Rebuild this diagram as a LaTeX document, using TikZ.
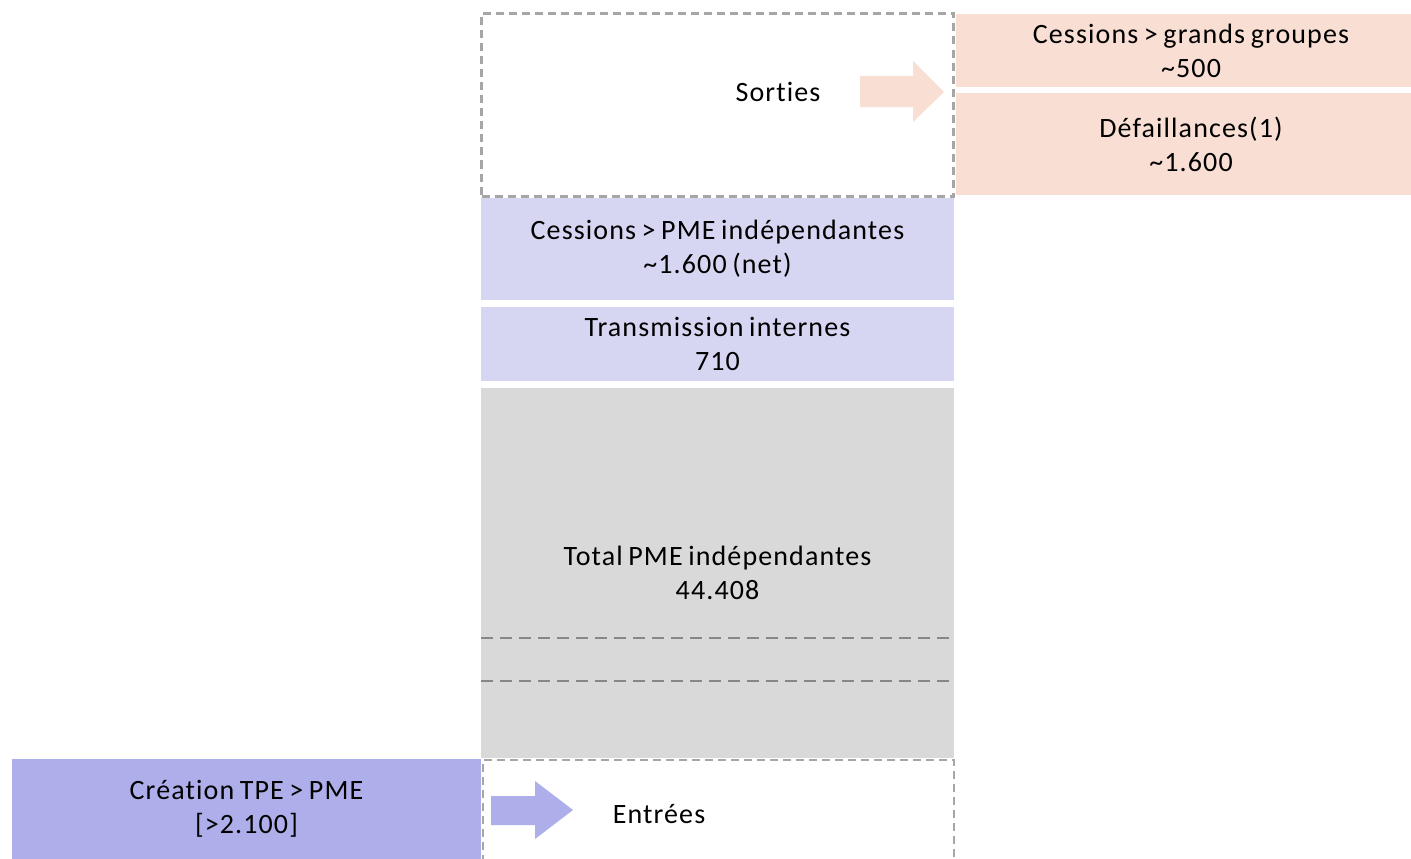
\documentclass[tikz,border=0pt]{standalone}
\usepackage{fontspec}
\setmainfont{Carlito}[Ligatures={TeX,NoCommon}, LetterSpace=4, WordSpace=0.75]
\definecolor{sortiepink}{HTML}{F9DFD3}
\definecolor{pmeblue}{HTML}{D6D6F3}
\definecolor{entreeblue}{HTML}{AEAEEB}
\definecolor{totalgray}{HTML}{D9D9D9}
\definecolor{dashgray}{HTML}{A6A6A6}
\definecolor{linegray}{HTML}{878787}
\tikzset{
  block/.style={rectangle, inner sep=0pt, align=center, font=\fontsize{28}{34}\selectfont},
  flowbox/.style={rectangle, draw=dashgray, line width=2.5pt, dash pattern=on 8pt off 5pt, fill=white},
  sepline/.style={linegray, line width=2.5pt, dash pattern=on 12pt off 7pt},
}

\begin{document}
\begin{tikzpicture}[x=1pt, y=-1pt]
    \useasboundingbox (0,0) rectangle (1411,859);
    % sorties
    \node[flowbox, minimum width=472pt, minimum height=183pt] (out) at (717.5,105) {};
    \node[block] (sorties) at (778,92) {Sorties};
    \fill[sortiepink] (860,76) -- (913,76) -- (913,61) -- (944,92) -- (913,122) -- (913,107) -- (860,107) -- cycle;
    \node[block, fill=sortiepink, minimum width=455pt, minimum height=73pt] (groupes) at (1183.5,50.5) {\hspace*{15pt}Cessions > grands groupes\\\hspace*{15pt}\textasciitilde500};
    \node[block, fill=sortiepink, minimum width=455pt, minimum height=102pt] (defaill) at (1183.5,144) {\hspace*{15pt}Défaillances(1)\\\hspace*{15pt}\textasciitilde1.600};
    % stock
    \node[block, fill=pmeblue, minimum width=473pt, minimum height=102pt] (cessions) at (717.5,249) {Cessions > PME indépendantes\\\textasciitilde1.600 (net)};
    \node[block, fill=pmeblue, minimum width=473pt, minimum height=74pt] (transm) at (717.5,344) {Transmission internes\\710};
    \node[block, fill=totalgray, minimum width=473pt, minimum height=370pt] (total) at (717.5,573) {Total PME indépendantes\\44.408};
    \draw[sepline] (481,638) -- (950,638);
    \draw[sepline] (481,681) -- (950,681);
    % entrees
    \node[flowbox, minimum width=471pt, minimum height=120pt] (in) at (718.5,820) {};
    \node[block] (entrees) at (659,814) {Entrées};
    \node[block, fill=entreeblue, minimum width=469pt, minimum height=100pt] (creation) at (246.5,809) {Création TPE > PME\\{[}>2.100{]}};
    \fill[entreeblue] (491,796) -- (535,796) -- (535,781) -- (573,810) -- (535,839) -- (535,825) -- (491,825) -- cycle;
\end{tikzpicture}
\end{document}
